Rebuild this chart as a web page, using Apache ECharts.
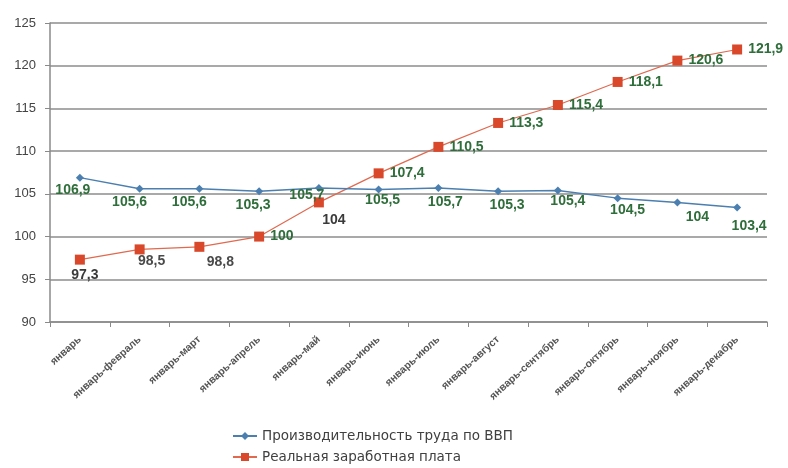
<!DOCTYPE html>
<html><head><meta charset="utf-8">
<script src="https://cdn.jsdelivr.net/npm/echarts@6/dist/echarts.min.js"></script>
<style>html,body{margin:0;padding:0;background:#fff}#c{width:788px;height:468px}</style>
</head><body><div id="c"></div>
<script>
const categories = ["январь","январь-февраль","январь-март","январь-апрель","январь-май","январь-июнь","январь-июль","январь-август","январь-сентябрь","январь-октябрь","январь-ноябрь","январь-декабрь"];
const productivity = [106.9,105.6,105.6,105.3,105.7,105.5,105.7,105.3,105.4,104.5,104,103.4];
const wages = [97.3,98.5,98.8,100,104,107.4,110.5,113.3,115.4,118.1,120.6,121.9];
const seriesNames = ["Производительность труда по ВВП","Реальная заработная плата"];
const yTicks = [90,95,100,105,110,115,120,125];

// label styling (not data)
const prodLabelOffsets = [[-7,-2],[-10,-2],[-10,-2],[-6,-1],[-12,-8],[4,-4],[7,-1],[9,-1],[10,-4],[10,-3],[20,0],[12,4]];
const wageLabelPos = ["bottom","bottom","bottom","right","bottom","right","right","right","right","right","right","right"];
const wageLabelOffsets = [[5,-2],[12,-6],[21,-3],[0,0],[15,0],[0,0],[0,0],[0,0],[0,0],[0,0],[0,0],[0,0]];
const wageLabelColors = ["#3a3a3a","#4a4a4a","#4a4a4a","#2e6e3a","#3a3a3a","#2e6e3a","#2e6e3a","#2e6e3a","#2e6e3a","#2e6e3a","#2e6e3a","#2e6e3a"];
const fmt = v => String(v).replace('.', ',');
const labelFont = {fontFamily:'Liberation Sans',fontSize:14,fontWeight:'bold'};

const chart = echarts.init(document.getElementById('c'));
chart.setOption({
  animation:false,
  backgroundColor:'#fff',
  grid:{left:50,right:21,top:23,bottom:146,containLabel:false},
  legend:{
    orient:'vertical',left:232,top:429,height:42,padding:0,itemGap:7,itemWidth:24,itemHeight:10,
    textStyle:{fontFamily:'DejaVu Sans',fontSize:13.5,color:'#404040',padding:[0,0,0,0]},
    data:seriesNames
  },
  xAxis:{
    type:'category',data:categories,boundaryGap:true,
    axisLine:{lineStyle:{color:'#8a8a8a',width:1.5}},
    axisTick:{show:true,alignWithLabel:false,length:5,lineStyle:{color:'#8a8a8a'}},
    axisLabel:{rotate:42,interval:0,fontFamily:'Liberation Sans',fontSize:10.5,fontWeight:'bold',color:'#555',margin:16}
  },
  yAxis:{
    type:'value',min:yTicks[0],max:yTicks[yTicks.length-1],interval:5,
    axisLine:{show:true,lineStyle:{color:'#8a8a8a',width:1.5}},
    axisTick:{show:true,length:5,lineStyle:{color:'#8a8a8a'}},
    axisLabel:{fontFamily:'Liberation Sans',fontSize:13,color:'#444',margin:14},
    splitLine:{lineStyle:{color:'#8c8c8c',width:1.5}}
  },
  series:[
    {
      name:seriesNames[0],type:'line',
      data:productivity.map((v,i)=>({value:v,label:{offset:prodLabelOffsets[i]}})),
      symbol:'diamond',symbolSize:8,
      itemStyle:{color:'#4a7fb0'},lineStyle:{color:'#4a7fb0',width:1.5},
      label:Object.assign({show:true,position:'bottom',distance:4,color:'#2e6e3a',formatter:p=>fmt(p.value)},labelFont),
      z:3
    },
    {
      name:seriesNames[1],type:'line',
      data:wages.map((v,i)=>({value:v,label:{position:wageLabelPos[i],offset:wageLabelOffsets[i],color:wageLabelColors[i]}})),
      symbol:'rect',symbolSize:10,
      itemStyle:{color:'#d9482b'},lineStyle:{color:'#e0694f',width:1.2},
      label:Object.assign({show:true,position:'right',distance:6,formatter:p=>fmt(p.value)},labelFont),
      z:2
    }
  ]
});
</script></body></html>
